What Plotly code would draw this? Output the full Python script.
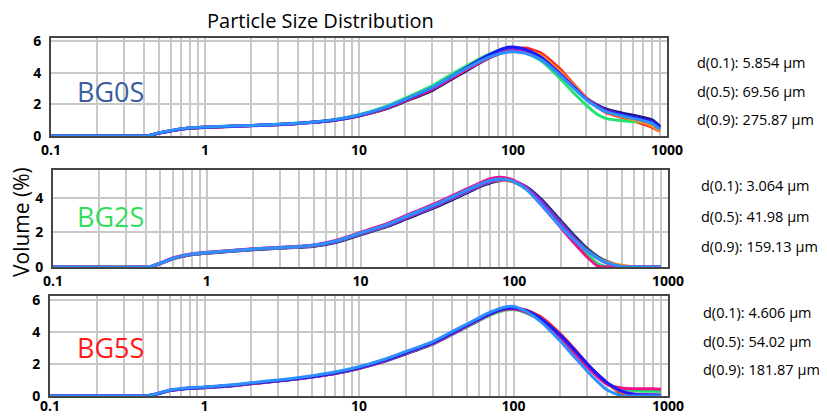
import plotly.graph_objects as go

# ---------------- data ----------------
SIZES = [0.1, 0.4, 0.43, 0.5, 0.6, 0.7, 0.8, 1, 1.5, 2, 3, 4, 5, 7, 10, 15, 20, 30, 40, 50,
         60, 70, 80, 90, 100, 120, 150, 200, 250, 300, 350, 400, 500, 600, 700, 800, 900]

X_TICKVALS = [0.1, 1, 10, 100, 1000]
X_TICKTEXT = ["0.1", "1", "10", "100", "1000"]

PANEL_NAMES = ["BG0S", "BG2S", "BG5S"]

D_BG0S = ["d(0.1): 5.854 µm", "d(0.5): 69.56 µm", "d(0.9): 275.87 µm"]
D_BG2S = ["d(0.1): 3.064 µm", "d(0.5): 41.98 µm", "d(0.9): 159.13 µm"]
D_BG5S = ["d(0.1): 4.606 µm", "d(0.5): 54.02 µm", "d(0.9): 181.87 µm"]

# BG0S runs (Volume %)
B0_NAVY = [0,0,0.02,0.17,0.32, 0.43,0.49,0.54,0.61,0.65, 0.72,0.79,0.86,1.0,1.27, 1.72,2.2,2.9,3.6,4.15,
           4.6,4.95,5.2,5.4,5.5, 5.45,5.05,4.0,3.1,2.4, 1.98,1.72,1.48,1.32,1.18, 1.02,0.6]
B0_RED = [0,0,0.02,0.18,0.33, 0.44,0.5,0.55,0.62,0.66, 0.73,0.8,0.87,1.02,1.28, 1.76,2.25,2.98,3.68,4.22,
          4.65,5.0,5.28,5.45,5.55, 5.58,5.3,4.3,3.25,2.4, 1.85,1.5,1.2,0.98,0.75, 0.55,0.3]
B0_GREEN = [0,0,0.02,0.19,0.34, 0.45,0.51,0.56,0.63,0.67, 0.74,0.82,0.89,1.05,1.35, 1.88,2.4,3.2,3.92,4.45,
            4.88,5.2,5.42,5.52,5.5, 5.3,4.82,3.7,2.7,1.95, 1.4,1.12,0.98,0.92,0.85, 0.7,0.4]
B0_ORANGE = [0,0,0.02,0.18,0.33, 0.44,0.5,0.55,0.62,0.66, 0.73,0.8,0.87,1.02,1.3, 1.78,2.28,3.02,3.72,4.27,
             4.68,5.0,5.25,5.4,5.45, 5.42,5.15,4.15,3.2,2.4, 1.88,1.55,1.25,1.05,0.85, 0.62,0.3]
B0_PURPLE = [0,0,0.02,0.18,0.33, 0.44,0.5,0.55,0.62,0.66, 0.73,0.8,0.87,1.02,1.3, 1.8,2.3,3.05,3.75,4.3,
             4.72,5.05,5.3,5.45,5.5, 5.4,5.02,4.0,3.1,2.35, 1.9,1.6,1.35,1.18,1.02, 0.85,0.45]
B0_MAGENTA = [0,0,0.02,0.18,0.33, 0.44,0.5,0.55,0.62,0.66, 0.73,0.8,0.87,1.02,1.3, 1.78,2.27,3.0,3.7,4.25,
              4.65,4.98,5.2,5.33,5.38, 5.3,4.95,3.95,3.05,2.35, 1.92,1.62,1.38,1.2,1.05, 0.9,0.5]
B0_BLUE = [0,0,0.02,0.18,0.33, 0.44,0.5,0.55,0.62,0.66, 0.73,0.8,0.87,1.02,1.3, 1.8,2.3,3.05,3.78,4.35,
           4.8,5.15,5.42,5.6,5.65, 5.5,5.05,3.95,3.05,2.32, 1.88,1.6,1.38,1.2,1.05, 0.9,0.55]
B0_SKY = [0,0,0.02,0.2,0.35, 0.46,0.52,0.57,0.63,0.67, 0.74,0.81,0.88,1.04,1.33, 1.83,2.33,3.08,3.78,4.3,
          4.7,5.0,5.2,5.32,5.35, 5.25,4.88,3.9,3.0,2.3, 1.85,1.55,1.3,1.12,0.97, 0.8,0.42]

# BG2S runs
B2_NAVY = [0,0,0.02,0.2,0.47, 0.62,0.72,0.8,0.92,1.0, 1.08,1.14,1.2,1.43,1.86, 2.35,2.8,3.42,3.92,4.32,
           4.65,4.88,5.0,5.02,4.95, 4.65,3.92,2.7,1.75,1.05, 0.6,0.32,0.05,0,0, 0,0]
B2_DKGREEN = [0,0,0.02,0.21,0.48, 0.63,0.73,0.81,0.93,1.02, 1.1,1.16,1.23,1.47,1.9, 2.4,2.87,3.5,4.0,4.4,
              4.72,4.95,5.05,5.03,4.93, 4.6,3.8,2.6,1.65,1.0, 0.55,0.28,0.03,0,0, 0,0]
B2_ORANGE = [0,0,0.02,0.22,0.5, 0.65,0.75,0.83,0.95,1.04, 1.12,1.18,1.25,1.5,1.93, 2.42,2.88,3.5,4.0,4.4,
             4.72,4.93,5.02,5.0,4.9, 4.5,3.7,2.5,1.55,0.92, 0.52,0.3,0.1,0,0, 0,0]
B2_MAGENTA = [0,0,0.02,0.23,0.52, 0.67,0.77,0.85,0.97,1.06, 1.14,1.2,1.28,1.55,2.0, 2.52,3.0,3.65,4.15,4.55,
              4.88,5.12,5.2,5.15,5.0, 4.55,3.6,2.3,1.3,0.55, 0.05,0,0,0,0, 0,0]
B2_GREEN = [0,0,0.02,0.22,0.5, 0.65,0.75,0.83,0.95,1.04, 1.12,1.18,1.25,1.5,1.95, 2.45,2.92,3.55,4.05,4.45,
            4.78,5.0,5.08,5.05,4.92, 4.5,3.62,2.38,1.45,0.75, 0.2,0.02,0,0,0, 0,0]
B2_PURPLE = [0,0,0.02,0.21,0.49, 0.64,0.74,0.82,0.94,1.03, 1.11,1.17,1.24,1.48,1.92, 2.42,2.88,3.5,4.0,4.4,
             4.73,4.95,5.05,5.05,4.95, 4.6,3.8,2.55,1.6,0.95, 0.5,0.22,0.02,0,0, 0,0]
B2_SKY = [0,0,0.02,0.22,0.5, 0.66,0.76,0.84,0.96,1.05, 1.13,1.19,1.27,1.52,1.97, 2.47,2.95,3.58,4.08,4.48,
          4.8,5.02,5.1,5.07,4.93, 4.5,3.6,2.35,1.5,0.9, 0.5,0.25,0.03,0,0, 0,0]

# BG5S runs
B5_RED = [0,0,0.02,0.15,0.35, 0.43,0.48,0.53,0.65,0.78, 0.95,1.08,1.2,1.42,1.75, 2.25,2.68,3.3,3.92,4.4,
          4.8,5.12,5.33,5.45,5.48, 5.38,4.95,3.9,2.9,2.0, 1.35,0.82,0.2,0.02,0, 0,0]
B5_NAVY = [0,0,0.02,0.14,0.34, 0.42,0.47,0.52,0.63,0.76, 0.93,1.06,1.18,1.4,1.72, 2.2,2.62,3.25,3.85,4.33,
           4.73,5.05,5.3,5.42,5.45, 5.3,4.85,3.85,2.85,2.0, 1.35,0.85,0.15,0,0, 0,0]
B5_GREEN = [0,0,0.02,0.15,0.35, 0.43,0.48,0.53,0.65,0.78, 0.95,1.08,1.2,1.42,1.75, 2.24,2.66,3.27,3.88,4.35,
            4.74,5.05,5.25,5.37,5.4, 5.2,4.72,3.7,2.75,1.95, 1.3,0.82,0.42,0.33,0.3, 0.3,0.28]
B5_MAGENTA = [0,0,0.02,0.15,0.35, 0.43,0.48,0.53,0.65,0.78, 0.95,1.08,1.2,1.42,1.75, 2.25,2.68,3.3,3.9,4.38,
              4.78,5.1,5.32,5.44,5.45, 5.25,4.72,3.6,2.6,1.8, 1.2,0.75,0.5,0.45,0.45, 0.45,0.42]
B5_PURPLE = [0,0,0.02,0.15,0.35, 0.43,0.48,0.53,0.65,0.78, 0.95,1.08,1.2,1.42,1.75, 2.25,2.68,3.3,3.92,4.4,
             4.8,5.12,5.33,5.44,5.45, 5.28,4.8,3.8,2.8,2.0, 1.35,0.85,0.3,0.12,0.1, 0.1,0.08]
B5_ORANGE = [0,0,0.02,0.15,0.35, 0.43,0.48,0.53,0.65,0.78, 0.95,1.08,1.2,1.42,1.75, 2.25,2.68,3.3,3.92,4.4,
             4.8,5.12,5.33,5.43,5.45, 5.3,4.85,3.8,2.8,1.95, 1.28,0.78,0.25,0.05,0, 0,0]
B5_BLUE = [0,0,0.02,0.15,0.36, 0.44,0.49,0.54,0.66,0.79, 0.96,1.09,1.21,1.43,1.76, 2.26,2.7,3.32,3.95,4.42,
           4.82,5.14,5.36,5.48,5.5, 5.35,4.85,3.82,2.85,2.0, 1.35,0.85,0.3,0.1,0.05, 0.03,0]
B5_SKY = [0,0,0.02,0.17,0.38, 0.47,0.52,0.57,0.7,0.83, 1.0,1.14,1.27,1.5,1.83, 2.33,2.77,3.4,4.02,4.5,
          4.9,5.22,5.45,5.58,5.6, 5.3,4.65,3.45,2.4,1.55, 0.9,0.4,0,0,0, 0,0]

# ---------------- styling ----------------
C_NAVY = "#16168a"
C_RED = "#ff1f1f"
C_GREEN = "#22e46e"
C_ORANGE = "#ff8a14"
C_PURPLE = "#8a2be2"
C_MAGENTA = "#f0128a"
C_BLUE = "#1a1aff"
C_DKGREEN = "#1e7d1e"
C_SKY = "#2e8fff"

PANELS = [
    [(B0_NAVY, C_NAVY), (B0_RED, C_RED), (B0_GREEN, C_GREEN), (B0_ORANGE, C_ORANGE),
     (B0_PURPLE, C_PURPLE), (B0_MAGENTA, C_MAGENTA), (B0_BLUE, C_BLUE), (B0_SKY, C_SKY)],
    [(B2_NAVY, C_NAVY), (B2_DKGREEN, C_DKGREEN), (B2_ORANGE, C_ORANGE), (B2_GREEN, C_GREEN),
     (B2_PURPLE, C_PURPLE), (B2_MAGENTA, C_MAGENTA), (B2_SKY, C_SKY)],
    [(B5_NAVY, C_NAVY), (B5_RED, C_RED), (B5_GREEN, C_GREEN), (B5_ORANGE, C_ORANGE),
     (B5_PURPLE, C_PURPLE), (B5_MAGENTA, C_MAGENTA), (B5_BLUE, C_BLUE), (B5_SKY, C_SKY)],
]
LABEL_COLORS = ["#3b5ea0", "#33dd5e", "#ff1a1a"]
D_TEXTS = [D_BG0S, D_BG2S, D_BG5S]

# page has an 8px body margin, so the figure is offset by 8px in the window
OFF = 8
W, H = 827 - OFF, 417 - OFF
FONT = "Open Sans"

def px_x(p):
    return (p - OFF) / W

def px_y(p):
    return 1 - (p - OFF) / H

# plot areas in window pixels: (left, right, top, bottom), y max
AREAS = [(51, 667, 38, 136, 6.22), (53, 668, 170, 267, 5.62), (50, 668, 296, 396, 6.25)]
XLABEL_SHIFT = [0, 0, -4]
LABEL_Y = [91, 216, 347]
D_POS = [(695, [62, 91, 120]), (699, [185, 216, 246]), (701, [312, 341, 369])]

minor_vals = [m * 10 ** e for e in (-1, 0, 1, 2) for m in range(2, 10)]

fig = go.Figure()
layout = dict(
    width=W, height=H, margin=dict(l=0, r=0, t=0, b=0, pad=0),
    paper_bgcolor="white", plot_bgcolor="white", showlegend=False,
    font=dict(family=FONT, color="black"),
)
annotations = []

for i, runs in enumerate(PANELS):
    sfx = "" if i == 0 else str(i + 1)
    for y, col in runs:
        fig.add_trace(go.Scatter(
            x=SIZES, y=y, mode="lines",
            line=dict(color=col, width=3, shape="spline", smoothing=0.6),
            xaxis="x" + sfx, yaxis="y" + sfx, hoverinfo="skip",
        ))
    l, r, t, b, ymax = AREAS[i]
    layout["xaxis" + sfx] = dict(
        type="log", range=[-1, 3], domain=[px_x(l), px_x(r)], automargin=False,
        anchor="y" + sfx, tickvals=X_TICKVALS, ticktext=X_TICKTEXT,
        tickfont=dict(family=FONT, size=14, color="black", weight="bold"),
        showgrid=True, gridcolor="#c8c8c8", gridwidth=1.5,
        minor=dict(tickvals=minor_vals, showgrid=True, gridcolor="#c8c8c8", gridwidth=1.5, ticks=""),
        showline=True, linecolor="#454545", linewidth=2, mirror=True,
        ticks="", zeroline=False, ticklabelstandoff=XLABEL_SHIFT[i],
    )
    layout["yaxis" + sfx] = dict(
        range=[0, ymax], domain=[px_y(b), px_y(t)], anchor="x" + sfx, automargin=False,
        tickvals=[0, 2, 4, 6], tickfont=dict(family=FONT, size=14, color="black", weight="bold"),
        showgrid=True, gridcolor="#c8c8c8", gridwidth=1.5,
        showline=True, linecolor="#454545", linewidth=2, mirror=True,
        ticks="", zeroline=False, ticklabelstandoff=5,
    )
    annotations.append(dict(
        text=PANEL_NAMES[i], x=px_x(110), y=px_y(LABEL_Y[i]), xref="paper", yref="paper",
        showarrow=False, xanchor="center", yanchor="middle",
        font=dict(family=FONT, size=27, color=LABEL_COLORS[i]),
    ))
    dx, dys = D_POS[i]
    for txt, dy in zip(D_TEXTS[i], dys):
        annotations.append(dict(
            text=txt, x=px_x(dx), y=px_y(dy), xref="paper", yref="paper",
            showarrow=False, xanchor="left", yanchor="middle",
            font=dict(family=FONT, size=14.5, color="black"),
        ))

annotations.append(dict(
    text="Particle Size Distribution", x=px_x(320), y=px_y(20), xref="paper", yref="paper",
    showarrow=False, xanchor="center", yanchor="middle",
    font=dict(family=FONT, size=20, color="black"),
))
annotations.append(dict(
    text="Volume (%)", x=px_x(21), y=px_y(222), xref="paper", yref="paper",
    showarrow=False, xanchor="center", yanchor="middle", textangle=-90,
    font=dict(family=FONT, size=21, color="black"),
))
layout["annotations"] = annotations
fig.update_layout(**layout)
fig.write_html("out.html")
